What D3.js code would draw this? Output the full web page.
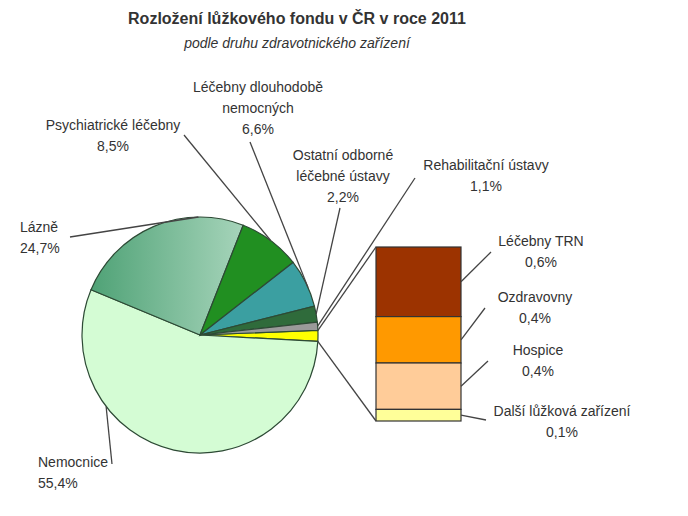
<!DOCTYPE html><html><head><meta charset="utf-8"><script src="https://cdn.jsdelivr.net/npm/d3@7"></script>
<style>body{margin:0;background:#fff}text{font-family:"Liberation Sans",Arial,sans-serif;fill:#333}</style></head><body><svg id="c" width="688" height="516"></svg><script>
const pieCats=["Další","Nemocnice","Lázně","Psychiatrické léčebny","Léčebny dlouhodobě nemocných","Ostatní odborné léčebné ústavy","Rehabilitační ústavy"];
const pieVals=[1.5,55.4,24.7,8.5,6.6,2.2,1.1];
const pieColors=["#ffff00","#d4fcd4","url(#gl)","#218f21","#3b9fa1","#2f6b3b","#9a9a9a"];
const barCats=["Léčebny TRN","Ozdravovny","Hospice","Další lůžková zařízení"];
const barVals=[0.6,0.4,0.4,0.1];
const barColors=["#9c3300","#ff9900","#ffcc99","#ffff99"];
const svg=d3.select("#c");
const defs=svg.append("defs");
const g0=defs.append("linearGradient").attr("id","gl").attr("x1","0").attr("x2","1");
g0.append("stop").attr("offset","0").attr("stop-color","#4fa276");
g0.append("stop").attr("offset","1").attr("stop-color","#a6d4ba");
svg.append("text").attr("x",297).attr("y",24).attr("text-anchor","middle").attr("font-size",16).attr("font-weight","bold").text("Rozložení lůžkového fondu v ČR v roce 2011");
svg.append("text").attr("x",297).attr("y",48).attr("text-anchor","middle").attr("font-size",14).attr("font-style","italic").text("podle druhu zdravotnického zařízení");
const cx=200,cy=335,r=118;
const pie=d3.pie().sort(null).startAngle(Math.PI/2-0.04).endAngle(Math.PI/2-0.04+2*Math.PI);
const arcs=pie(pieVals);
const arc=d3.arc().innerRadius(0).outerRadius(r);
const pg=svg.append("g").attr("transform",`translate(${cx},${cy})`);
pg.selectAll("path").data(arcs).join("path").attr("d",arc).attr("fill",(d,i)=>pieColors[i]).attr("stroke","#2d4a35").attr("stroke-width",1.2);
function edge(d,f){const a=d.startAngle+(d.endAngle-d.startAngle)*(f==null?0.5:f);return [cx+r*Math.sin(a),cy-r*Math.cos(a)];}
const bx=376,bw=85,by0=247,by1=421;
const total=d3.sum(barVals);
const ys=d3.scaleLinear().domain([0,total]).range([by0,by1]);
let acc=0;const segs=barVals.map((v,i)=>{const s={y0:ys(acc),y1:ys(acc+v),i};acc+=v;return s;});
svg.selectAll("rect.b").data(segs).join("rect").attr("x",bx).attr("width",bw).attr("y",d=>d.y0).attr("height",d=>d.y1-d.y0).attr("fill",d=>barColors[d.i]).attr("stroke","#333").attr("stroke-width",1.2);
const ln=(x1,y1,x2,y2)=>svg.append("line").attr("x1",x1).attr("y1",y1).attr("x2",x2).attr("y2",y2).attr("stroke","#444").attr("stroke-width",1.3);
const yT=edge(arcs[0],0),yB=edge(arcs[0],1);
ln(yT[0],yT[1],bx,by0);ln(yB[0],yB[1],bx,by1);
function lab(lines,x,y,anchor){const t=svg.append("text").attr("font-size",14).attr("text-anchor",anchor||"middle");lines.forEach((s,k)=>t.append("tspan").attr("x",x).attr("y",y+k*21).text(s));}
const fmt=v=>String(v).replace(".",",")+"%";
let p;
p=edge(arcs[1],0.7);lab([pieCats[1],fmt(pieVals[1])],38,467,"start");ln(112,464,p[0],p[1]);
p=edge(arcs[2],0.75);lab([pieCats[2],fmt(pieVals[2])],20,232,"start");ln(70,237,p[0],p[1]);
p=edge(arcs[3],0.5);lab(["Psychiatrické léčebny",fmt(pieVals[3])],113,130);ln(184,135,p[0],p[1]);
p=edge(arcs[4],0.6);lab(["Léčebny dlouhodobě","nemocných",fmt(pieVals[4])],258,92);ln(250,142,p[0],p[1]);
p=edge(arcs[5],0.5);lab(["Ostatní odborné","léčebné ústavy",fmt(pieVals[5])],343,160);ln(340,208,p[0],p[1]);
p=edge(arcs[6],0.5);lab(["Rehabilitační ústavy",fmt(pieVals[6])],486,170);ln(415,178,p[0],p[1]);
const bl=[[541,246],[535,302],[538,355],[562,416]];
segs.forEach((s,i)=>{lab([barCats[i],fmt(barVals[i])],bl[i][0],bl[i][1]);ln(bx+bw,(s.y0+s.y1)/2,bl[i][0]-(i==3?76:50),bl[i][1]+(i==3?4:6));});
</script></body></html>
